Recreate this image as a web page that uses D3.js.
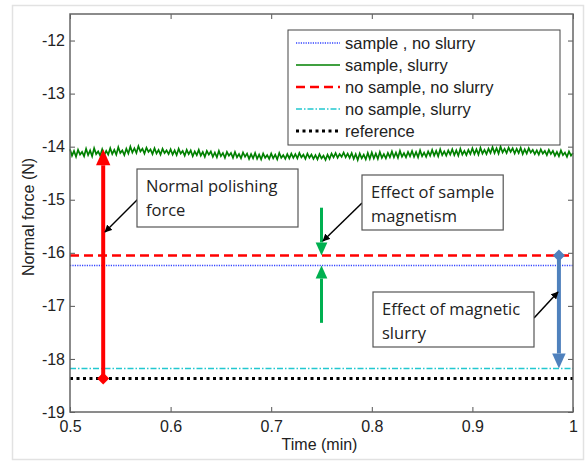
<!DOCTYPE html>
<meta charset="utf-8">
<style>
body { margin: 0; background: #fff; }
svg text { font-family: "Liberation Sans", Arial, sans-serif; }
svg text.note { font-family: "Open Sans", "Noto Sans", sans-serif; font-size: 16.5px; fill: #222; }
</style>
<svg width="586" height="461"></svg>
<script src="https://d3js.org/d3.v7.min.js"></script>
<script>

// constant levels (N)
var levelNames = ["sample , no slurry", "sample, slurry", "no sample, no slurry", "no sample, slurry", "reference"];
var levelValues = [-16.24, null, -16.05, -18.18, -18.37];

// sample, slurry : measured force, time 0.5 .. 1.0 min step 0.002
var slurryStart = 0.5, slurryStep = 0.002;
var slurryForce = [
  -14.05,-14.17,-14.08,-14.19,-14.06,-14.15,-14.10,-14.18,-14.04,-14.16,
  -14.07,-14.18,-14.03,-14.14,-14.09,-14.17,-14.05,-14.16,-14.08,-14.15,
  -14.03,-14.14,-14.06,-14.15,-14.01,-14.12,-14.07,-14.16,-14.04,-14.13,
  -14.00,-14.11,-14.03,-14.12,-13.99,-14.09,-14.04,-14.13,-14.02,-14.10,
  -14.05,-14.14,-14.03,-14.13,-14.06,-14.15,-14.04,-14.12,-14.07,-14.14,
  -14.05,-14.15,-14.07,-14.16,-14.04,-14.13,-14.08,-14.17,-14.06,-14.14,
  -14.07,-14.18,-14.09,-14.16,-14.06,-14.17,-14.10,-14.19,-14.08,-14.15,
  -14.09,-14.19,-14.11,-14.20,-14.08,-14.18,-14.12,-14.21,-14.10,-14.17,
  -14.12,-14.21,-14.10,-14.20,-14.14,-14.22,-14.11,-14.19,-14.13,-14.23,
  -14.14,-14.22,-14.12,-14.23,-14.15,-14.24,-14.13,-14.21,-14.16,-14.23,
  -14.13,-14.22,-14.15,-14.24,-14.12,-14.21,-14.16,-14.23,-14.14,-14.22,
  -14.13,-14.21,-14.14,-14.22,-14.12,-14.20,-14.15,-14.23,-14.13,-14.21,
  -14.15,-14.23,-14.16,-14.24,-14.14,-14.22,-14.17,-14.25,-14.15,-14.23,
  -14.13,-14.20,-14.12,-14.21,-14.14,-14.19,-14.11,-14.20,-14.13,-14.21,
  -14.12,-14.23,-14.14,-14.25,-14.13,-14.22,-14.15,-14.24,-14.12,-14.23,
  -14.11,-14.22,-14.13,-14.23,-14.10,-14.21,-14.14,-14.22,-14.12,-14.20,
  -14.09,-14.20,-14.11,-14.21,-14.08,-14.19,-14.12,-14.20,-14.10,-14.18,
  -14.08,-14.19,-14.10,-14.20,-14.07,-14.18,-14.11,-14.19,-14.09,-14.17,
  -14.06,-14.17,-14.08,-14.18,-14.05,-14.16,-14.09,-14.17,-14.07,-14.15,
  -14.05,-14.16,-14.07,-14.17,-14.04,-14.15,-14.08,-14.16,-14.06,-14.14,
  -14.03,-14.14,-14.05,-14.15,-14.02,-14.13,-14.06,-14.14,-14.04,-14.12,
  -14.01,-14.12,-14.03,-14.13,-14.00,-14.11,-14.04,-14.12,-14.02,-14.10,
  -14.03,-14.13,-14.04,-14.12,-14.02,-14.14,-14.05,-14.13,-14.03,-14.11,
  -14.06,-14.14,-14.07,-14.15,-14.05,-14.13,-14.08,-14.16,-14.06,-14.14,
  -14.08,-14.17,-14.10,-14.18,-14.07,-14.16,-14.11,-14.19,-14.09,-14.17,
  -14.12
];

var xTicks = [0.5, 0.6, 0.7, 0.8, 0.9, 1];
var yTicks = [-12, -13, -14, -15, -16, -17, -18, -19];

// annotation arrows: time, from, to
var redArrow = [0.533, -18.37, -14.05];
var greenDown = [0.75, -15.15, -16.05];
var greenUp = [0.75, -17.32, -16.24];
var blueArrow = [0.986, -16.05, -18.18];

var svg = d3.select("svg");
var m = {left: 70, right: 573, top: 14, bottom: 412};
var font = "Liberation Sans, Arial, sans-serif";

svg.append("rect")
    .attr("x", 12.5).attr("y", 5.5).attr("width", 571).attr("height", 454)
    .attr("fill", "none").attr("stroke", "#e2e2e2").attr("stroke-width", 1.5);

var x = d3.scaleLinear().domain([0.5, 1]).range([m.left, m.right]);
var y = d3.scaleLinear().domain([-19, -11.5]).range([m.bottom, m.top]);

var plot = svg.append("g");

// axes, matlab style ticks inside
function axisStyle(g) {
  g.attr("font-family", font).attr("font-size", 16);
  g.select(".domain").remove();
  g.selectAll("line").attr("stroke", "#555");
  g.selectAll("text").attr("fill", "#222");
}
var fmt = function(d) { return String(d); };
svg.append("g").attr("transform", "translate(0," + m.bottom + ")")
    .call(d3.axisBottom(x).tickValues(xTicks).tickSizeInner(-5).tickSizeOuter(0).tickPadding(9).tickFormat(fmt))
    .call(axisStyle);
svg.append("g").attr("transform", "translate(0," + m.top + ")")
    .call(d3.axisTop(x).tickValues(xTicks).tickSizeInner(-5).tickSizeOuter(0).tickFormat(""))
    .call(axisStyle);
svg.append("g").attr("transform", "translate(" + m.left + ",0)")
    .call(d3.axisLeft(y).tickValues(yTicks).tickSizeInner(-5).tickSizeOuter(0).tickPadding(5).tickFormat(fmt))
    .call(axisStyle);
svg.append("g").attr("transform", "translate(" + m.right + ",0)")
    .call(d3.axisRight(y).tickValues(yTicks).tickSizeInner(-5).tickSizeOuter(0).tickFormat(""))
    .call(axisStyle);

svg.append("rect")
    .attr("x", m.left).attr("y", m.top)
    .attr("width", m.right - m.left).attr("height", m.bottom - m.top)
    .attr("fill", "none").attr("stroke", "#666").attr("stroke-width", 1.5);

svg.append("text").attr("x", (m.left + m.right) / 2 - 2).attr("y", 450)
    .attr("text-anchor", "middle").attr("font-size", 16).attr("fill", "#222").text("Time (min)");
svg.append("text").attr("transform", "translate(34,217) rotate(-90)")
    .attr("text-anchor", "middle").attr("font-size", 16).attr("fill", "#222").text("Normal force (N)");

var styles = [
  {color: "#3344ff", width: 1.5, dash: "1.2,1.2"},
  {color: "#008000", width: 1.5, dash: null},
  {color: "#ff0000", width: 2.5, dash: "9,5"},
  {color: "#22c8d0", width: 1.3, dash: "6,2,1.5,2"},
  {color: "#000000", width: 3, dash: "3,3.5"}
];

// constant lines
levelValues.forEach(function(v, i) {
  if (v === null) return;
  plot.append("line")
      .attr("x1", x(0.5)).attr("x2", x(1)).attr("y1", y(v)).attr("y2", y(v))
      .attr("stroke", styles[i].color).attr("stroke-width", styles[i].width)
      .attr("stroke-dasharray", styles[i].dash);
});

plot.append("path")
    .datum(slurryForce)
    .attr("fill", "none").attr("stroke", styles[1].color).attr("stroke-width", 1.7)
    .attr("d", d3.line().x(function(d, i) { return x(slurryStart + i * slurryStep); }).y(function(d) { return y(d); }));

// double arrows
function arrow(a, color, w, head, startDiamond) {
  var px = x(a[0]), y0 = y(a[1]), y1 = y(a[2]);
  var dir = y1 < y0 ? -1 : 1;
  var g = svg.append("g");
  g.append("line").attr("x1", px).attr("x2", px).attr("y1", y0).attr("y2", y1 - dir * head)
      .attr("stroke", color).attr("stroke-width", w);
  g.append("path")
      .attr("d", "M" + px + "," + y1 + "L" + (px - head * 0.45) + "," + (y1 - dir * head) + "L" + (px + head * 0.45) + "," + (y1 - dir * head) + "Z")
      .attr("fill", color);
  if (startDiamond) {
    var s = 6;
    g.append("path")
        .attr("d", "M" + px + "," + (y0 - s) + "L" + (px + s) + "," + y0 + "L" + px + "," + (y0 + s) + "L" + (px - s) + "," + y0 + "Z")
        .attr("fill", color);
  }
}
arrow(redArrow, "#ff0000", 4, 16, true);
arrow(greenDown, "#00b050", 3, 13, false);
arrow(greenUp, "#00b050", 3, 13, false);
arrow(blueArrow, "#4f81bd", 4, 15, true);

// callout boxes
svg.append("defs").append("marker")
    .attr("id", "tip").attr("viewBox", "0 0 10 10").attr("refX", 9).attr("refY", 5)
    .attr("markerWidth", 5).attr("markerHeight", 5).attr("orient", "auto")
  .append("path").attr("d", "M0,0L10,5L0,10Z").attr("fill", "#000");

var notes = [
  {x: 137, y: 169, w: 161, h: 58, lines: ["Normal polishing", "force"], from: [140, 197], to: [105, 232]},
  {x: 362, y: 175, w: 81, h: 55, lines: ["Effect of sample", "magnetism"], from: [362, 203], to: [323, 241]},
  {x: 373, y: 292, w: 161, h: 55, lines: ["Effect of magnetic", "slurry"], from: [534, 318], to: [558, 292]}
];
notes.forEach(function(n) {
  svg.append("line").attr("x1", n.from[0]).attr("y1", n.from[1]).attr("x2", n.to[0]).attr("y2", n.to[1])
      .attr("stroke", "#000").attr("stroke-width", 1.5).attr("marker-end", "url(#tip)");
  var g = svg.append("g");
  var t = g.append("text").attr("class", "note").attr("x", n.x + 9).attr("y", n.y + 23);
  n.lines.forEach(function(s, i) {
    t.append("tspan").attr("x", n.x + 9).attr("dy", i ? 24 : 0).text(s);
  });
  var bw = Math.max(n.w, t.node().getBBox().width + 18);
  g.insert("rect", "text").attr("x", n.x).attr("y", n.y).attr("width", bw).attr("height", n.h)
      .attr("fill", "#fff").attr("stroke", "#555").attr("stroke-width", 1.2);
});

// legend
var lg = svg.append("g").attr("transform", "translate(288,30)");
lg.append("rect").attr("width", 272).attr("height", 115)
    .attr("fill", "#fff").attr("stroke", "#444").attr("stroke-width", 1);
levelNames.forEach(function(name, i) {
  var ly = 13 + i * 22;
  lg.append("line").attr("x1", 8).attr("x2", 52).attr("y1", ly).attr("y2", ly)
      .attr("stroke", styles[i].color).attr("stroke-width", styles[i].width)
      .attr("stroke-dasharray", styles[i].dash);
  lg.append("text").attr("x", 57).attr("y", ly + 6).attr("font-size", 16.5).attr("fill", "#222").text(name);
});

</script>
